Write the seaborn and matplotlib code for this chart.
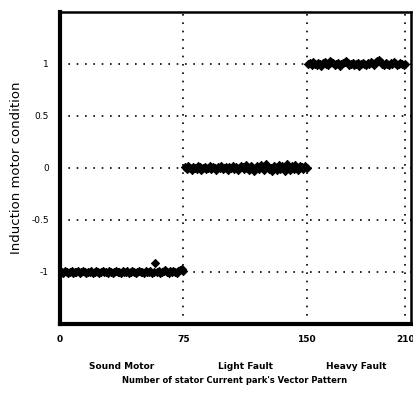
import matplotlib
matplotlib.use("Agg")
import matplotlib.pyplot as plt
import seaborn as sns
import pandas as pd
import numpy as np

# Data
sound_offsets = [0.00, -0.01, 0.01, 0.00, -0.01, 0.00, 0.01, -0.01, 0.00, 0.00,
                 0.01, -0.01, 0.00, 0.01, 0.00, -0.01, 0.00, 0.00, 0.01, -0.01,
                 0.00, 0.01, 0.00, -0.01, 0.00, 0.01, 0.00, 0.00, -0.01, 0.01,
                 0.00, -0.01, 0.00, 0.01, 0.00, 0.00, -0.01, 0.01, 0.00, 0.00,
                 0.01, -0.01, 0.00, 0.01, 0.00, -0.01, 0.00, 0.01, 0.00, 0.00,
                 -0.01, 0.01, 0.00, 0.00, 0.01, -0.01, 0.00, 0.09, 0.00, 0.01,
                 -0.01, 0.00, 0.01, 0.02, 0.00, -0.01, 0.01, 0.00, 0.01, 0.00,
                 -0.01, 0.01, 0.02, 0.03, 0.01]
light_offsets = [0.01, -0.01, 0.02, 0.00, -0.02, 0.01, 0.00, -0.01, 0.02, 0.01,
                 -0.02, 0.00, 0.01, -0.01, 0.00, 0.02, -0.01, 0.01, 0.00, -0.02,
                 0.01, 0.00, 0.02, -0.01, 0.00, 0.01, -0.02, 0.01, 0.00, 0.02,
                 -0.01, 0.01, -0.02, 0.00, 0.02, 0.01, -0.01, 0.03, 0.00, -0.02,
                 0.02, 0.01, -0.03, 0.00, 0.02, -0.01, 0.03, 0.01, -0.02, 0.04,
                 0.02, -0.01, 0.00, -0.03, 0.02, 0.01, -0.02, 0.03, -0.01, 0.02,
                 0.00, -0.03, 0.04, 0.01, -0.02, 0.02, -0.01, 0.03, 0.00, -0.02,
                 0.02, 0.01, -0.01, 0.02, 0.00]
heavy_offsets = [0.00, 0.01, -0.01, 0.02, 0.00, -0.01, 0.01, 0.00, -0.02, 0.01,
                 0.02, 0.00, -0.01, 0.03, 0.02, 0.01, -0.01, 0.00, 0.01, -0.02,
                 0.00, 0.01, 0.02, 0.03, 0.01, -0.01, 0.00, 0.01, -0.01, 0.00,
                 0.01, -0.02, 0.00, 0.01, 0.00, -0.01, 0.01, 0.00, 0.02, 0.01,
                 -0.01, 0.02, 0.03, 0.04, 0.02, 0.00, -0.01, 0.01, 0.00, -0.01,
                 0.01, 0.00, 0.02, 0.01, -0.01, 0.00, 0.01, 0.00, -0.01, 0.00]

levels = [-1, 0, 1]
x_ticks = [0, 75, 150, 210]
y_ticks = [-1, -0.5, 0, 0.5, 1]
y_tick_labels = ["-1", "-0.5", "0", "0.5", "1"]
category_labels = ["Sound Motor", "Light Fault", "Heavy Fault"]
category_centers = [37.5, 112.5, 180]

ys = ([levels[0] + o for o in sound_offsets] +
      [levels[1] + o for o in light_offsets] +
      [levels[2] + o for o in heavy_offsets])
xs = list(range(1, len(ys) + 1))
df = pd.DataFrame({"pattern": xs, "condition": ys})

sns.set_style("white")
plt.rcParams['font.family'] = ['DejaVu Sans']
plt.rcParams['text.color'] = 'black'
plt.rcParams['axes.labelcolor'] = 'black'

fig = plt.figure(figsize=(4.14, 3.98), dpi=100)
ax = fig.add_axes([0.145, 0.186, 0.848, 0.784])

sns.scatterplot(data=df, x="pattern", y="condition", ax=ax, marker="D",
                s=18, color="black", edgecolor="black", linewidth=0.6, zorder=3)

ax.set_xlim(0, 213.5)
ax.set_ylim(-1.5, 1.5)
ax.set_xticks(x_ticks)
ax.set_xticklabels([str(t) for t in x_ticks], fontsize=6.5, fontweight="bold")
ax.set_yticks(y_ticks)
ax.set_yticklabels(y_tick_labels, fontsize=6.5)
ax.grid(True, color="black", linestyle=(0, (1, 4)), linewidth=1.2)
for s in ax.spines.values():
    s.set_color("black")
ax.spines["left"].set_linewidth(3)
ax.spines["bottom"].set_linewidth(3)
ax.spines["top"].set_linewidth(1.8)
ax.spines["right"].set_linewidth(1.8)
ax.tick_params(axis="both", length=0, pad=8, colors="black")

ax.set_xlabel("")
ax.set_ylabel("Induction motor condition", fontsize=9.5, labelpad=6)

for lbl, c in zip(category_labels, category_centers):
    ax.text(c, -0.135, lbl, transform=ax.get_xaxis_transform(), ha="center",
            va="center", fontsize=6.5, fontweight="bold", color="black")

fig.text(0.567, 0.043, "Number of stator Current park's Vector Pattern",
         ha="center", va="center", fontsize=6, fontweight="bold", color="black")

fig.savefig("out.png", dpi=100)
